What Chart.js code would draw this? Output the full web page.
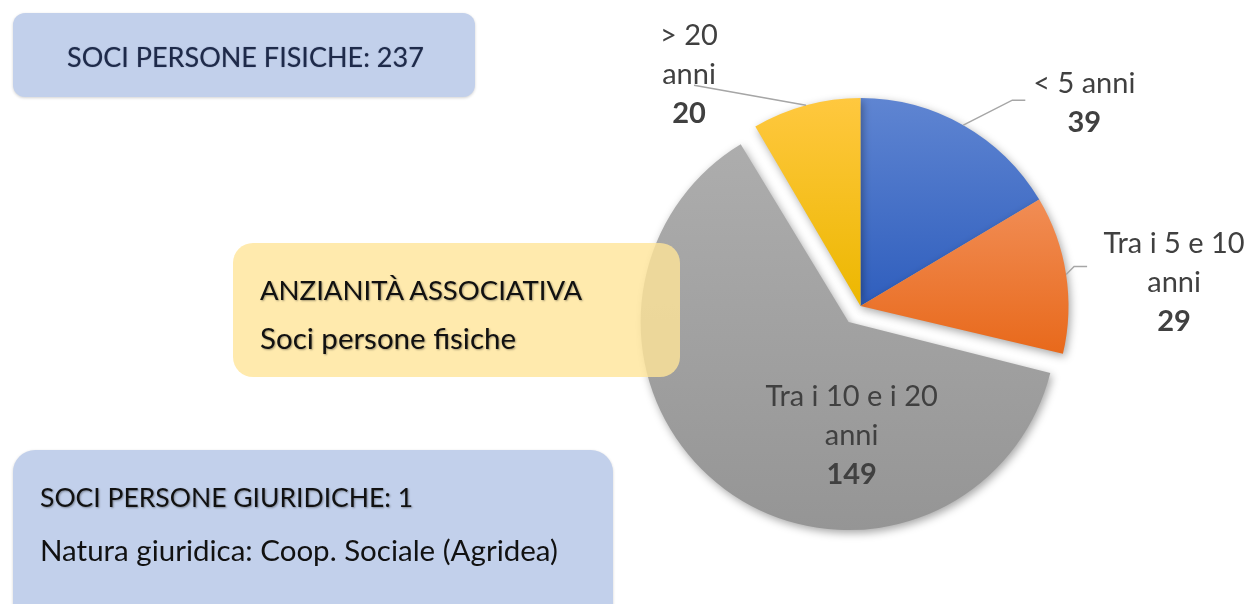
<!DOCTYPE html>
<html>
<head>
<meta charset="utf-8">
<script src="https://cdn.jsdelivr.net/npm/chart.js@4.4.0/dist/chart.umd.min.js"></script>
<style>
  html, body { margin: 0; padding: 0; background: #fff; }
  #wrap { position: relative; width: 1247px; height: 604px; overflow: hidden; font-family: Lato, sans-serif; }
  #pie { position: absolute; left: 0; top: 0; }
  .box { position: absolute; box-sizing: border-box; }
  .line { position: absolute; white-space: nowrap; line-height: 40px; height: 40px; }
  .blue { background: #c2d0eb; box-shadow: 0 1px 3px rgba(0,0,0,0.18); }
  .yellow { background: rgba(255, 229, 153, 0.8); }
  .shadowed { color: #111; text-shadow: 1px 1px 2px rgba(0,0,0,0.35); }
</style>
</head>
<body>
<div id="wrap">
  <canvas id="pie" width="1247" height="604"></canvas>

  <div class="box blue" style="left:13px;top:13px;width:462px;height:84px;border-radius:12px;">
    <div class="line" style="left:54px;top:24px;font-size:27px;color:#1e2a4a;text-shadow:0 0 1px rgba(30,42,74,0.6);">SOCI PERSONE FISICHE: 237</div>
  </div>

  <div class="box yellow" style="left:233px;top:243px;width:447px;height:134px;border-radius:20px;">
    <div class="line shadowed" style="left:27px;top:27px;font-size:27.5px;">ANZIANITÀ ASSOCIATIVA</div>
    <div class="line shadowed" style="left:27px;top:75px;font-size:29.5px;">Soci persone fisiche</div>
  </div>

  <div class="box blue" style="left:13px;top:450px;width:600px;height:180px;border-radius:22px;">
    <div class="line shadowed" style="left:27px;top:27px;font-size:26.5px;">SOCI PERSONE GIURIDICHE: 1</div>
    <div class="line" style="left:27px;top:80px;font-size:29.5px;color:#111;">Natura giuridica: Coop. Sociale (Agridea)</div>
  </div>
</div>

<script>
// data
const categories = ['< 5 anni', 'Tra i 5 e 10 anni', 'Tra i 10 e i 20 anni', '> 20 anni'];
const labelLines = [['< 5 anni'], ['Tra i 5 e 10', 'anni'], ['Tra i 10 e i 20', 'anni'], ['> 20', 'anni']];
const values = [39, 29, 149, 20];
const explode = [0, 0, 80, 0];

// gradient colours, top -> bottom of each slice
const colorsTop = ['#5f85d2', '#f18d55', '#adadad', '#ffc83f'];
const colorsBottom = ['#2f5ebd', '#e8691b', '#959595', '#ecb700'];

// where each label sits: leader elbow points and text position, relative to the slice edge
// (or to the slice apex when inside)
const labelLayout = [
  { inside: false, leader: [[49, -25], [62, -25]], text: [121, -42] },
  { inside: false, leader: [[8, -8], [21, -8]], text: [108, -31] },
  { inside: true, leader: [], text: [3, 75] },
  { inside: false, leader: [[-112, -20]], text: [-117, -70] }
];

function sliceGradient(ctx) {
  const i = ctx.dataIndex;
  const chart = ctx.chart;
  const meta = chart.getDatasetMeta(0);
  const el = meta.data[i];
  const R = meta.controller.outerRadius;
  if (!el || el.startAngle === undefined || !R) return colorsBottom[i];
  const s = el.startAngle, e = el.endAngle, cy = el.y;
  let ys = [cy, cy + R * Math.sin(s), cy + R * Math.sin(e)];
  for (let k = -2; k <= 2; k++) {
    const bottom = Math.PI / 2 + 2 * Math.PI * k;
    const top = -Math.PI / 2 + 2 * Math.PI * k;
    if (bottom > s && bottom < e) ys.push(cy + R);
    if (top > s && top < e) ys.push(cy - R);
  }
  const y0 = Math.min(...ys), y1 = Math.max(...ys);
  const g = chart.ctx.createLinearGradient(0, y0, 0, y1);
  g.addColorStop(0, colorsTop[i]);
  g.addColorStop(1, colorsBottom[i]);
  return g;
}

const piePlugin = {
  id: 'pieDecor',
  beforeDatasetsDraw(chart) {
    const meta = chart.getDatasetMeta(0);
    // keep exploded slice the same size as the others
    meta.data.forEach((arc, i) => {
      arc.outerRadius = meta.controller.outerRadius - explode[i] / 4;
    });
    const c = chart.ctx;
    c.save();
    c.shadowColor = 'rgba(0,0,0,0.35)';
    c.shadowBlur = 9;
    c.shadowOffsetX = 2;
    c.shadowOffsetY = 3;
  },
  afterDatasetsDraw(chart) {
    const c = chart.ctx;
    c.restore();
    const meta = chart.getDatasetMeta(0);
    const R = meta.controller.outerRadius;
    meta.data.forEach((arc, i) => {
      const a = (arc.startAngle + arc.endAngle) / 2;
      const lay = labelLayout[i];
      const shift = explode[i] / 4;
      const cx = arc.x + Math.cos(a) * shift;
      const cy = arc.y + Math.sin(a) * shift;
      let ax, ay;
      if (lay.inside) { ax = cx; ay = cy; }
      else { ax = cx + Math.cos(a) * R; ay = cy + Math.sin(a) * R; }

      if (lay.leader.length) {
        c.save();
        c.strokeStyle = '#a6a6a6';
        c.lineWidth = 1.5;
        c.beginPath();
        c.moveTo(ax, ay);
        lay.leader.forEach(p => c.lineTo(ax + p[0], ay + p[1]));
        c.stroke();
        c.restore();
      }

      const tx = ax + lay.text[0];
      let ty = ay + lay.text[1];
      c.save();
      c.fillStyle = '#404040';
      c.textAlign = 'center';
      c.textBaseline = 'middle';
      c.font = '29px Lato';
      labelLines[i].forEach(line => {
        c.fillText(line, tx, ty);
        ty += 39;
      });
      c.font = 'bold 29px Lato';
      c.fillText(String(values[i]), tx, ty);
      c.restore();
    });
  }
};

const pieChart = new Chart(document.getElementById('pie'), {
  type: 'pie',
  data: {
    labels: categories,
    datasets: [{
      data: values,
      backgroundColor: sliceGradient,
      borderWidth: 0,
      offset: explode,
      radius: 208
    }]
  },
  options: {
    responsive: false,
    animation: false,
    events: [],
    layout: { padding: { left: 560, right: 86, top: 20, bottom: 12 } },
    plugins: {
      legend: { display: false },
      tooltip: { enabled: false }
    }
  },
  plugins: [piePlugin]
});
// second pass so the gradients know the slice geometry
pieChart.update();
</script>
</body>
</html>
